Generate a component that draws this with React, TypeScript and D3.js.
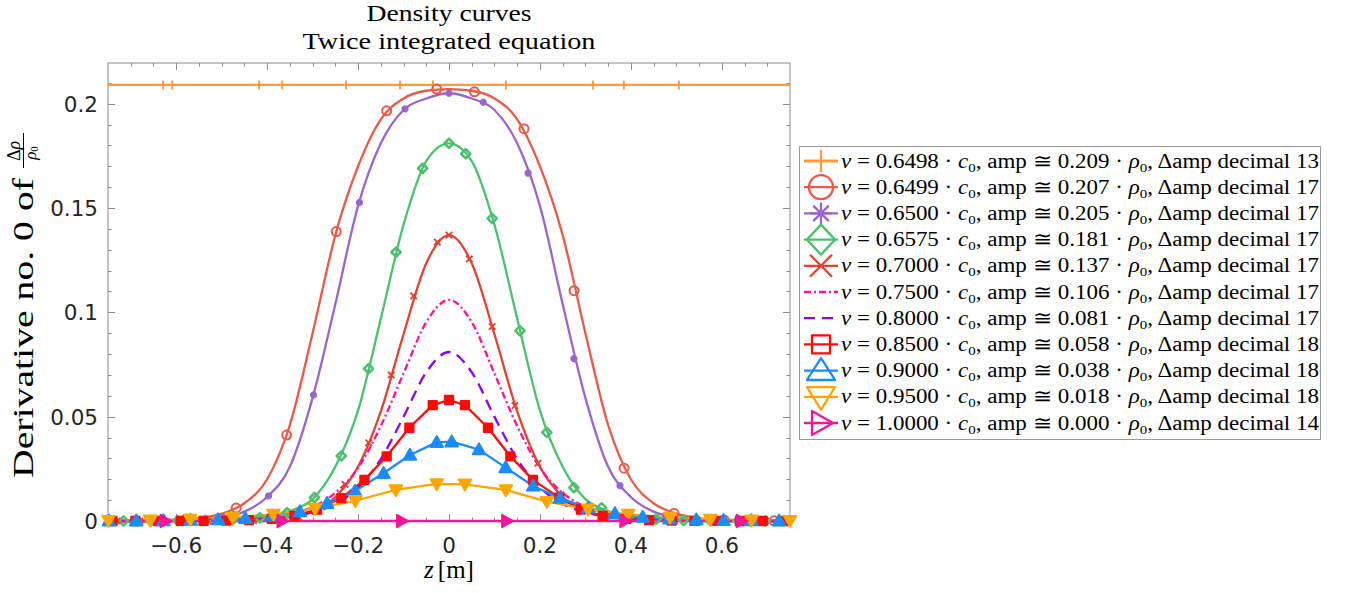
import React from 'react';
import * as d3 from 'd3';

// ---- axes ----
const X_DOMAIN: [number, number] = [-0.75, 0.75];
const Y_DOMAIN: [number, number] = [0, 0.2195];
const X_TICKS = [-0.6, -0.4, -0.2, 0, 0.2, 0.4, 0.6];
const Y_TICKS = [0, 0.05, 0.1, 0.15, 0.2];

// ---- legend text values ----
const SPEEDS = [0.6498, 0.6499, 0.65, 0.6575, 0.7, 0.75, 0.8, 0.85, 0.9, 0.95, 1.0];
const AMPS = [0.209, 0.207, 0.205, 0.181, 0.137, 0.106, 0.081, 0.058, 0.038, 0.018, 0.0];
const DECIMALS = [13, 17, 17, 17, 17, 17, 17, 18, 18, 18, 14];

// ---- common grid for the finely resolved curves ----
const Z_GRID = [
  -0.75, -0.7, -0.65, -0.6, -0.55, -0.5, -0.45, -0.4, -0.35, -0.3, -0.25, -0.2, -0.15, -0.1, -0.05,
  0, 0.05, 0.1, 0.15, 0.2, 0.25, 0.3, 0.35, 0.4, 0.45, 0.5, 0.55, 0.6, 0.65, 0.7, 0.75,
];

// v = 0.6498 c0: flat state
const FLAT_Z = [-0.75, 0.75];
const FLAT_V = [0.209, 0.209];
const FLAT_MZ = [-0.6286, -0.6088, -0.4176, -0.367, -0.2264, -0.1077, -0.0352, 0.1253, 0.3165, 0.3846, 0.5055];
const FLAT_MV = [0.209, 0.209, 0.209, 0.209, 0.209, 0.209, 0.209, 0.209, 0.209, 0.209, 0.209];

// v = 0.6499 c0
const V6499 = [
  0, 0.0001, 0.0002, 0.0006, 0.0014, 0.0035, 0.0085, 0.02, 0.046, 0.09, 0.137, 0.17, 0.1925, 0.2025, 0.2062,
  0.207, 0.2062, 0.2025, 0.1925, 0.17, 0.137, 0.09, 0.046, 0.02, 0.0085, 0.0035, 0.0014, 0.0006, 0.0002, 0.0001, 0,
];
const M6499_Z = [-0.688, -0.578, -0.468, -0.357, -0.248, -0.137, -0.027, 0.056, 0.165, 0.275, 0.385, 0.495, 0.605, 0.715];
const M6499_V = [0.0001, 0.001, 0.0062, 0.0412, 0.1387, 0.1966, 0.207, 0.2057, 0.188, 0.1104, 0.0253, 0.0037, 0.0005, 0.0001];

// v = 0.6500 c0
const V6500 = [
  0, 0, 0.0001, 0.0003, 0.0007, 0.0018, 0.0045, 0.0115, 0.026, 0.059, 0.104, 0.151, 0.181, 0.197, 0.2025,
  0.205, 0.2025, 0.197, 0.181, 0.151, 0.104, 0.059, 0.026, 0.0115, 0.0045, 0.0018, 0.0007, 0.0003, 0.0001, 0, 0,
];
const M6500_Z = [-0.597, -0.497, -0.397, -0.298, -0.197, -0.0967, 0, 0.0754, 0.174, 0.2747, 0.376, 0.476, 0.576, 0.676];
const M6500_V = [0.0003, 0.0018, 0.012, 0.0604, 0.1526, 0.1975, 0.205, 0.2007, 0.1667, 0.0778, 0.0169, 0.0028, 0.0005, 0.0001];

// v = 0.6575 c0
const V6575 = [
  0, 0, 0, 0.0001, 0.0001, 0.0003, 0.0008, 0.002, 0.0048, 0.0105, 0.026, 0.053, 0.097, 0.142, 0.1725,
  0.181, 0.1725, 0.142, 0.097, 0.053, 0.026, 0.0105, 0.0048, 0.002, 0.0008, 0.0003, 0.0001, 0.0001, 0, 0, 0,
];
const M6575_Z = [
  -0.716, -0.656, -0.596, -0.536, -0.476, -0.416, -0.356, -0.296, -0.237, -0.177, -0.1165, -0.058, 0, 0.0367,
  0.095, 0.156, 0.215, 0.2747, 0.3356, 0.3956, 0.4556, 0.5156, 0.5756, 0.6356, 0.6956,
];
const M6575_V = [
  0, 0, 0.0001, 0.0002, 0.0006, 0.0015, 0.004, 0.0112, 0.0312, 0.073, 0.1288, 0.169, 0.181, 0.176, 0.145,
  0.0912, 0.0425, 0.016, 0.0064, 0.0024, 0.0009, 0.0003, 0.0001, 0, 0,
];

// v = 0.7000 c0
const V7000 = [
  0, 0, 0, 0, 0, 0.0001, 0.0003, 0.0008, 0.002, 0.0048, 0.0115, 0.026, 0.0525, 0.0895, 0.1235,
  0.137, 0.1235, 0.0895, 0.0525, 0.026, 0.0115, 0.0048, 0.002, 0.0008, 0.0003, 0.0001, 0, 0, 0, 0, 0,
];
const M7000_Z = [
  -0.73, -0.68, -0.63, -0.58, -0.53, -0.48, -0.43, -0.38, -0.33, -0.28, -0.2286, -0.1766, -0.127, -0.0777, -0.0256,
  0, 0.0447, 0.095, 0.145, 0.1956, 0.246, 0.296, 0.346, 0.396, 0.446, 0.496, 0.546, 0.596, 0.646, 0.696, 0.746,
];
const M7000_V = [
  0, 0, 0, 0, 0, 0.0001, 0.0002, 0.0007, 0.0017, 0.0069, 0.0176, 0.0375, 0.07, 0.1079, 0.1337,
  0.137, 0.1256, 0.0932, 0.0553, 0.0277, 0.0125, 0.0052, 0.0022, 0.0009, 0.0003, 0.0001, 0, 0, 0, 0, 0,
];

// v = 0.7500 c0 (dash-dot, no markers)
const V7500 = [
  0, 0, 0, 0, 0.0001, 0.0003, 0.0007, 0.0016, 0.0034, 0.0068, 0.0135, 0.0255, 0.0455, 0.0707, 0.0953,
  0.106, 0.0953, 0.0707, 0.0455, 0.0255, 0.0135, 0.0068, 0.0034, 0.0016, 0.0007, 0.0003, 0.0001, 0, 0, 0, 0,
];

// v = 0.8000 c0 (dashed, no markers)
const V8000 = [
  0, 0, 0, 0.0001, 0.0001, 0.0002, 0.00045, 0.00095, 0.002, 0.0042, 0.0082, 0.016, 0.0297, 0.0499, 0.0713,
  0.081, 0.0713, 0.0499, 0.0297, 0.016, 0.0082, 0.0042, 0.002, 0.00095, 0.00045, 0.0002, 0.0001, 0.0001, 0, 0, 0,
];

// v = 0.8500 c0 (coarse samples)
const V8500_Z = [
  -0.74, -0.69, -0.64, -0.59, -0.54, -0.49, -0.44, -0.39, -0.34, -0.29, -0.237, -0.186, -0.137, -0.0872, -0.0358,
  0, 0.035, 0.0857, 0.1348, 0.1846, 0.2425, 0.29, 0.338, 0.39, 0.44, 0.49, 0.54, 0.59, 0.64, 0.69, 0.74,
];
const V8500_V = [
  0, 0, 0, 0.0001, 0.0001, 0.0002, 0.0004, 0.001, 0.0025, 0.0055, 0.011, 0.0197, 0.031, 0.0447, 0.0555,
  0.058, 0.0555, 0.0447, 0.031, 0.0197, 0.0112, 0.0055, 0.0025, 0.001, 0.0004, 0.0002, 0.0001, 0.0001, 0, 0, 0,
];

// v = 0.9000 c0 (coarse samples)
const V9000_Z = [
  -0.748, -0.688, -0.628, -0.568, -0.508, -0.448, -0.388, -0.328, -0.268, -0.2066, -0.144, -0.086, -0.027,
  0.006, 0.066, 0.1246, 0.185, 0.244, 0.306, 0.365, 0.426, 0.485, 0.544, 0.604, 0.665, 0.726,
];
const V9000_V = [
  0.0001, 0.0001, 0.0002, 0.0004, 0.0007, 0.0013, 0.0025, 0.0045, 0.0085, 0.0144, 0.0229, 0.0316, 0.0377,
  0.038, 0.0342, 0.0256, 0.0168, 0.011, 0.0062, 0.0036, 0.0019, 0.001, 0.0006, 0.0003, 0.0002, 0.0001,
];

// v = 0.9500 c0 (coarse samples)
const V9500_Z = [
  -0.749, -0.657, -0.569, -0.476, -0.386, -0.2945, -0.206, -0.117, -0.027, 0.035, 0.125, 0.215, 0.306, 0.394,
  0.486, 0.575, 0.665, 0.75,
];
const V9500_V = [
  0.0002, 0.0004, 0.0008, 0.0017, 0.0032, 0.006, 0.0097, 0.0149, 0.0178, 0.0176, 0.0149, 0.0093, 0.0057, 0.0032,
  0.0017, 0.0008, 0.0004, 0.0002,
];

// v = 1.0000 c0: vanishing amplitude
const V10000_Z = [-0.75, 0.75];
const V10000_V = [0, 0];
const M10000_Z = [-0.624, -0.367, -0.104, 0.127, 0.387, 0.643];
const M10000_V = [0, 0, 0, 0, 0, 0];

type MarkerKind = 'plus' | 'circle' | 'star' | 'diamond' | 'x' | 'none' | 'square' | 'up' | 'down' | 'right';

interface Series {
  lz: number[];
  lv: number[];
  mz: number[];
  mv: number[];
  color: string;
  marker: MarkerKind;
  smooth: boolean;
  dash?: string;
  filled: boolean;
  msize: number;
  mstroke: number;
}

const SERIES: Series[] = [
  { lz: FLAT_Z, lv: FLAT_V, mz: FLAT_MZ, mv: FLAT_MV, color: '#FF9A40', marker: 'plus', smooth: false, filled: false, msize: 4.5, mstroke: 1.9 },
  { lz: Z_GRID, lv: V6499, mz: M6499_Z, mv: M6499_V, color: '#E95A4A', marker: 'circle', smooth: true, filled: false, msize: 4.5, mstroke: 2 },
  { lz: Z_GRID, lv: V6500, mz: M6500_Z, mv: M6500_V, color: '#9966CC', marker: 'star', smooth: true, filled: true, msize: 3.5, mstroke: 2.6 },
  { lz: Z_GRID, lv: V6575, mz: M6575_Z, mv: M6575_V, color: '#4DC06E', marker: 'diamond', smooth: true, filled: false, msize: 4.6, mstroke: 2.6 },
  { lz: Z_GRID, lv: V7000, mz: M7000_Z, mv: M7000_V, color: '#DE4432', marker: 'x', smooth: true, filled: false, msize: 3.2, mstroke: 1.9 },
  { lz: Z_GRID, lv: V7500, mz: [], mv: [], color: '#FF1493', marker: 'none', smooth: true, dash: '7,3,2,3', filled: false, msize: 0, mstroke: 0 },
  { lz: Z_GRID, lv: V8000, mz: [], mv: [], color: '#8A00FF', marker: 'none', smooth: true, dash: '11,7', filled: false, msize: 0, mstroke: 0 },
  { lz: V8500_Z, lv: V8500_V, mz: V8500_Z, mv: V8500_V, color: '#FF0A0A', marker: 'square', smooth: false, filled: true, msize: 4.2, mstroke: 1.9 },
  { lz: V9000_Z, lv: V9000_V, mz: V9000_Z, mv: V9000_V, color: '#1A8CFF', marker: 'up', smooth: false, filled: true, msize: 6.3, mstroke: 1.9 },
  { lz: V9500_Z, lv: V9500_V, mz: V9500_Z, mv: V9500_V, color: '#FFA500', marker: 'down', smooth: false, filled: true, msize: 6.3, mstroke: 1.9 },
  { lz: V10000_Z, lv: V10000_V, mz: M10000_Z, mv: M10000_V, color: '#F5159A', marker: 'right', smooth: false, filled: true, msize: 6.3, mstroke: 1.9 },
];

function markerPath(kind: MarkerKind, cx: number, cy: number, s: number, sy?: number): string {
  const h = sy ?? s;
  switch (kind) {
    case 'plus':
      return `M${cx - s},${cy}H${cx + s}M${cx},${cy - h}V${cy + h}`;
    case 'circle':
      return `M${cx + s},${cy}A${s},${s} 0 1 1 ${cx - s},${cy}A${s},${s} 0 1 1 ${cx + s},${cy}Z`;
    case 'star': {
      const d = s * 0.7071;
      return `M${cx - s},${cy}H${cx + s}M${cx},${cy - s}V${cy + s}M${cx - d},${cy - d}L${cx + d},${cy + d}M${cx - d},${cy + d}L${cx + d},${cy - d}`;
    }
    case 'diamond':
      return `M${cx},${cy - h}L${cx + s},${cy}L${cx},${cy + h}L${cx - s},${cy}Z`;
    case 'x':
      return `M${cx - s},${cy - s}L${cx + s},${cy + s}M${cx - s},${cy + s}L${cx + s},${cy - s}`;
    case 'square':
      return `M${cx - s},${cy - s}H${cx + s}V${cy + s}H${cx - s}Z`;
    case 'up':
      return `M${cx},${cy - h}L${cx + s},${cy + h * 0.75}L${cx - s},${cy + h * 0.75}Z`;
    case 'down':
      return `M${cx},${cy + h}L${cx + s},${cy - h * 0.75}L${cx - s},${cy - h * 0.75}Z`;
    case 'right':
      return `M${cx + s},${cy}L${cx - s * 0.75},${cy - h}L${cx - s * 0.75},${cy + h}Z`;
    default:
      return '';
  }
}

const PLOT = { left: 108, right: 790, top: 63, bottom: 521 };
const SERIF = '"Liberation Serif", "Times New Roman", serif';
const SANS = '"DejaVu Sans", Verdana, sans-serif';
const AXIS_COLOR = '#8c8c8c';

export default function App() {
  const x = d3.scaleLinear().domain(X_DOMAIN).range([PLOT.left, PLOT.right]);
  const y = d3.scaleLinear().domain(Y_DOMAIN).range([PLOT.bottom, PLOT.top]);

  const xMinor = d3.range(-14, 15).map((i) => ({ v: i * 0.05, major: i % 4 === 0 }));
  const yMinor = d3.range(1, 22).map((i) => ({ v: i * 0.01, major: i % 5 === 0 }));

  const legendRowY = (i: number) => 161 + i * 26.2;
  const legendMarkerSize: Record<MarkerKind, [number, number]> = {
    plus: [17, 11],
    circle: [12, 12],
    star: [11, 11],
    diamond: [14, 15],
    x: [11, 7.5],
    none: [0, 0],
    square: [9, 8.5],
    up: [14, 12.5],
    down: [14, 13],
    right: [12, 12],
  };

  return (
    <svg
      width={1349}
      height={593}
      style={{ position: 'absolute', left: 0, top: 0, background: '#fff' }}
      xmlns="http://www.w3.org/2000/svg"
    >
      <defs>
        <clipPath id="plot-clip">
          <rect x={PLOT.left} y={PLOT.top - 2} width={PLOT.right - PLOT.left} height={PLOT.bottom - PLOT.top + 4} />
        </clipPath>
      </defs>

      {/* title */}
      <text x={449} y={21} textAnchor="middle" fontFamily={SERIF} fontSize={24} textLength={165} lengthAdjust="spacingAndGlyphs" fill="#000">
        Density curves
      </text>
      <text x={449} y={49} textAnchor="middle" fontFamily={SERIF} fontSize={24} textLength={293} lengthAdjust="spacingAndGlyphs" fill="#000">
        Twice integrated equation
      </text>

      {/* plot frame */}
      <rect x={PLOT.left} y={PLOT.top} width={PLOT.right - PLOT.left} height={PLOT.bottom - PLOT.top} fill="#fff" stroke={AXIS_COLOR} strokeWidth={1} />

      {/* ticks on all sides, pointing inward */}
      <g stroke={AXIS_COLOR} strokeWidth={1}>
        {xMinor.map((t, i) => {
          const len = t.major ? 7 : 3.5;
          const px = Math.round(x(t.v)) + 0.5;
          return (
            <g key={`xt${i}`}>
              <line x1={px} x2={px} y1={PLOT.bottom} y2={PLOT.bottom - len} />
              <line x1={px} x2={px} y1={PLOT.top} y2={PLOT.top + len} />
            </g>
          );
        })}
        {yMinor.map((t, i) => {
          const len = t.major ? 7 : 3.5;
          const py = Math.round(y(t.v)) + 0.5;
          return (
            <g key={`yt${i}`}>
              <line x1={PLOT.left} x2={PLOT.left + len} y1={py} y2={py} />
              <line x1={PLOT.right} x2={PLOT.right - len} y1={py} y2={py} />
            </g>
          );
        })}
      </g>

      {/* tick labels */}
      <g fontFamily={SANS} fontSize={21.5} fill="#262626">
        {X_TICKS.map((t) => (
          <text key={`xl${t}`} x={x(t)} y={553} textAnchor="middle">
            {t < 0 ? `\u2212${Math.abs(t)}` : `${t}`}
          </text>
        ))}
        {Y_TICKS.map((t) => (
          <text key={`yl${t}`} x={98} y={y(t) + 8} textAnchor="end">
            {`${t}`}
          </text>
        ))}
      </g>

      {/* axis labels */}
      <text x={449} y={578} textAnchor="middle" fontFamily={SERIF} fontSize={25} fill="#000">
        <tspan fontStyle="italic">z</tspan>
        <tspan dx={4}>[m]</tspan>
      </text>
      <g transform="translate(33,478) rotate(-90)" fontFamily={SERIF} fill="#000">
        <text x={0} y={0} fontSize={29} textLength={300} lengthAdjust="spacingAndGlyphs">
          Derivative no. 0 of
        </text>
        <text x={327} y={-13} fontSize={18} textAnchor="middle">
          Δ<tspan fontStyle="italic">ρ</tspan>
        </text>
        <line x1={310} x2={345} y1={-9.5} y2={-9.5} stroke="#000" strokeWidth={1} />
        <text x={325} y={3} fontSize={17} textAnchor="middle">
          <tspan fontStyle="italic">ρ</tspan>
          <tspan dy={2} fontSize={11}>0</tspan>
        </text>
      </g>

      {/* curves */}
      <g clipPath="url(#plot-clip)">
        {SERIES.map((s, i) => {
          const pts = s.lz.map((z, k) => [z, s.lv[k]] as [number, number]);
          const gen = d3
            .line<[number, number]>()
            .x((d) => x(d[0]))
            .y((d) => y(d[1]))
            .curve(s.smooth ? d3.curveMonotoneX : d3.curveLinear);
          return (
            <path
              key={`line${i}`}
              d={gen(pts) ?? ''}
              fill="none"
              stroke={s.color}
              strokeWidth={2.3}
              strokeDasharray={s.dash}
              strokeLinejoin="round"
            />
          );
        })}
      </g>

      {/* markers, drawn in series order so later series sit on top */}
      {SERIES.map((s, i) => (
        <g key={`marks${i}`}>
          {s.mz.map((z, k) => (
            <path
              key={k}
              d={markerPath(s.marker, x(z), y(s.mv[k]), s.msize)}
              fill={s.filled && s.marker !== 'star' ? s.color : 'none'}
              stroke={s.color}
              strokeWidth={s.mstroke}
              strokeLinejoin="round"
            />
          ))}
        </g>
      ))}

      {/* legend */}
      <rect x={799.5} y={146.5} width={521} height={293} fill="#fff" stroke="#9a9a9a" strokeWidth={1} />
      {SERIES.map((s, i) => {
        const cy = legendRowY(i);
        const [sx, sy] = legendMarkerSize[s.marker];
        return (
          <g key={`leg${i}`}>
            <line x1={804} x2={838} y1={cy} y2={cy} stroke={s.color} strokeWidth={2.3} strokeDasharray={s.dash} />
            {s.marker !== 'none' && (
              <path d={markerPath(s.marker, 821, cy, sx, sy)} fill="none" stroke={s.color} strokeWidth={2.3} strokeLinejoin="round" />
            )}
            <text
              x={841}
              y={cy + 6.5}
              fontFamily={SERIF}
              fontSize={20}
              fill="#000"
              textLength={478}
              lengthAdjust="spacingAndGlyphs"
            >
              <tspan fontStyle="italic">v</tspan>
              <tspan>{` = ${SPEEDS[i].toFixed(4)} · `}</tspan>
              <tspan fontStyle="italic">c</tspan>
              <tspan dy={4} fontSize={13}>0</tspan>
              <tspan dy={-4}>{`, amp ≅ ${AMPS[i].toFixed(3)} · `}</tspan>
              <tspan fontStyle="italic">ρ</tspan>
              <tspan dy={4} fontSize={13}>0</tspan>
              <tspan dy={-4}>{`, Δamp decimal ${DECIMALS[i]}`}</tspan>
            </text>
          </g>
        );
      })}
    </svg>
  );
}
